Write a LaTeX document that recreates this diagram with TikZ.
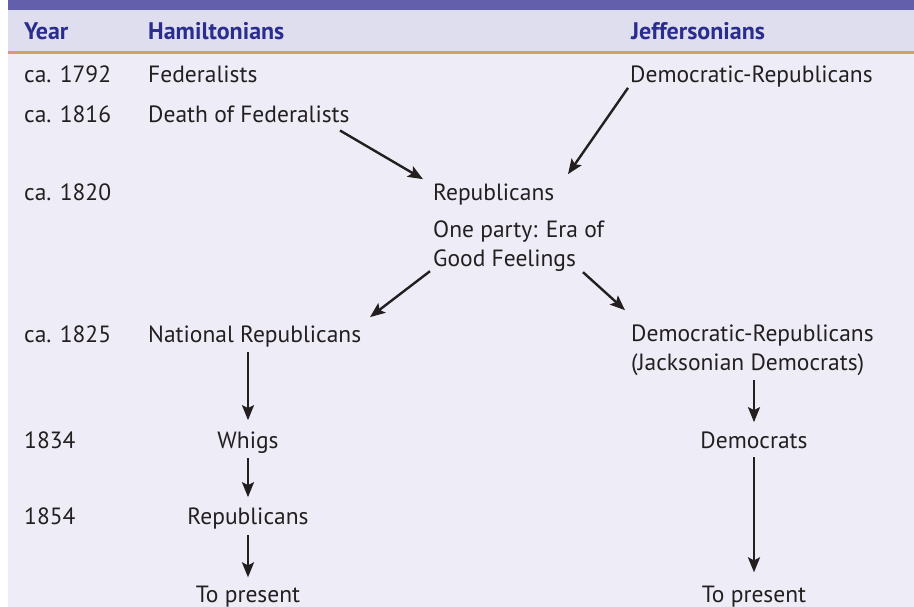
\documentclass[tikz,border=0pt]{standalone}
\usepackage{fontspec}
\setmainfont{PT Sans}
\usetikzlibrary{arrows.meta,calc}
\definecolor{topband}{HTML}{645FAB}
\definecolor{hdrbg}{HTML}{DEDEEF}
\definecolor{bodybg}{HTML}{EEEDF7}
\definecolor{tanline}{HTML}{D4A062}
\definecolor{ink}{HTML}{231F20}
\definecolor{hdrink}{HTML}{2B2D8E}
\begin{document}
\begin{tikzpicture}[x=1pt,y=-1pt,
  txt/.style={inner sep=0pt, text=ink, font=\fontsize{23.5}{29}\selectfont},
  hdr/.style={inner sep=0pt, text=hdrink, font=\fontsize{24}{29}\selectfont\bfseries},
  arr/.style={draw=ink, line width=2.4pt, -{Stealth[length=15pt,width=12pt,inset=3pt]}}]
\useasboundingbox (0,0) rectangle (914,607);
\fill[white] (0,0) rectangle (914,607);
\fill[bodybg] (8,0) rectangle (914,607);
\fill[topband] (8,0) rectangle (914,10);
\fill[hdrbg] (8,10) rectangle (914,51);
\fill[tanline] (8,51) rectangle (914,54);
% header
\node[hdr, anchor=base west] (hyear) at (24,40) {Year};
\node[hdr, anchor=base west] (hham) at (148,40) {Hamiltonians};
\node[hdr, anchor=base west] (hjef) at (631,40) {Jeffersonians};
% years
\node[txt, anchor=base west] (y1792) at (24,83) {ca. 1792};
\node[txt, anchor=base west] (y1816) at (24,123) {ca. 1816};
\node[txt, anchor=base west] (y1820) at (24,201) {ca. 1820};
\node[txt, anchor=base west] (y1825) at (24,342) {ca. 1825};
\node[txt, anchor=base west] (y1834) at (24,448) {1834};
\node[txt, anchor=base west] (y1854) at (24,524) {1854};
% parties
\node[txt, anchor=base west] (fed) at (148,83) {Federalists};
\node[txt, anchor=base west] (death) at (148,123) {Death of Federalists};
\node[txt, anchor=base west] (demrep) at (630,83) {Democratic-Republicans};
\node[txt, anchor=base west] (rep) at (433,201) {Republicans};
\node[txt, anchor=base west, align=left] (gf) at (433,266) {One party: Era of\\Good Feelings};
\node[txt, anchor=base west] (natrep) at (148,342) {National Republicans};
\node[txt, anchor=base west, align=left] (jack) at (631,370) {Democratic-Republicans\\(Jacksonian Democrats)};
\node[txt, anchor=base] (whigs) at (248,448) {Whigs};
\node[txt, anchor=base] (rep2) at (248,524) {Republicans};
\node[txt, anchor=base] (pres1) at (248,602) {To present};
\node[txt, anchor=base] (dem) at (754,448) {Democrats};
\node[txt, anchor=base] (pres2) at (754,602) {To present};
% arrows
\coordinate (d1) at ($(death.south west)+(192,7)$);
\draw[arr] (d1) -- ($(rep.north west)+(-10,-5)$);
\draw[arr] ($(demrep.south west)+(-2,0)$) -- ($(rep.north west)+(135,-10)$);
\draw[arr] ($(gf.south west)+(-3,0)$) -- ($(natrep.north west)+(222,-8)$);
\draw[arr] ($(gf.south west)+(150,1)$) -- ($(jack.north west)+(-6,-14)$);
\coordinate (a1) at (natrep.south -| whigs.north);
\draw[arr] ($(a1)+(0,5)$) -- ($(whigs.north)+(0,-11)$);
\draw[arr] ($(whigs.south)+(0,5)$) -- ($(rep2.north)+(0,-10)$);
\draw[arr] ($(rep2.south)+(0,6)$) -- ($(pres1.north)+(0,-8)$);
\coordinate (a2) at (jack.south -| dem.north);
\draw[arr] ($(a2)+(0,5)$) -- ($(dem.north)+(0,-9)$);
\draw[arr] ($(dem.south)+(0,9)$) -- ($(pres2.north)+(0,-13)$);
\end{tikzpicture}
\end{document}
